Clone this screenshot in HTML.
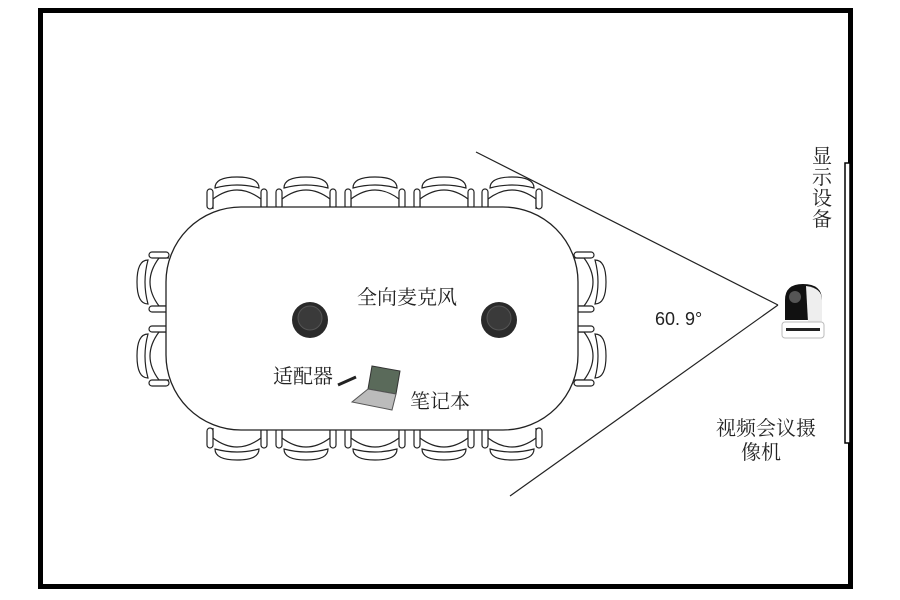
<!DOCTYPE html>
<html><head><meta charset="utf-8"><style>
html,body{margin:0;padding:0;background:#fff;}
svg{display:block}
text{font-family:"Liberation Sans","Noto Serif CJK SC",serif;fill:#222;}
</style></head><body>
<svg width="900" height="600" viewBox="0 0 900 600" xmlns="http://www.w3.org/2000/svg">
<defs>
<g id="chair" fill="#fff" stroke="#222" stroke-width="1.2">
  <path d="M-24,2 L-24,-8 Q0,-26 24,-8 L24,2"/>
  <path d="M-22,-19 Q-22,-30 0,-30 Q22,-30 22,-19 Q0,-25 -22,-19 Z"/>
  <rect x="-30" y="-18" width="6" height="20" rx="3"/>
  <rect x="24" y="-18" width="6" height="20" rx="3"/>
</g>
</defs>
<rect x="40.5" y="10.5" width="810" height="576" fill="#fff" stroke="#000" stroke-width="5"/>
<rect x="845" y="163" width="5" height="280" fill="#fff" stroke="#000" stroke-width="1.5"/>
<use href="#chair" transform="translate(237,207)"/>
<use href="#chair" transform="translate(306,207)"/>
<use href="#chair" transform="translate(375,207)"/>
<use href="#chair" transform="translate(444,207)"/>
<use href="#chair" transform="translate(512,207)"/>
<use href="#chair" transform="translate(237,430) rotate(180)"/>
<use href="#chair" transform="translate(306,430) rotate(180)"/>
<use href="#chair" transform="translate(375,430) rotate(180)"/>
<use href="#chair" transform="translate(444,430) rotate(180)"/>
<use href="#chair" transform="translate(512,430) rotate(180)"/>
<use href="#chair" transform="translate(167,282) rotate(-90)"/>
<use href="#chair" transform="translate(167,356) rotate(-90)"/>
<use href="#chair" transform="translate(576,282) rotate(90)"/>
<use href="#chair" transform="translate(576,356) rotate(90)"/>
<rect x="166" y="207" width="412" height="223" rx="75" fill="#fff" stroke="#222" stroke-width="1.3"/>
<line x1="476" y1="152" x2="778" y2="305" stroke="#222" stroke-width="1.2"/>
<line x1="510" y1="496" x2="778" y2="305" stroke="#222" stroke-width="1.2"/>
<circle cx="310" cy="320" r="18" fill="#2a2a2a"/><circle cx="310" cy="318" r="12" fill="#3a3a3a" stroke="#555"/>
<circle cx="499" cy="320" r="18" fill="#2a2a2a"/><circle cx="499" cy="318" r="12" fill="#3a3a3a" stroke="#555"/>
<line x1="338" y1="385" x2="356" y2="377" stroke="#222" stroke-width="3"/>
<polygon points="372,366 400,371 396,394 368,389" fill="#5a6a5a" stroke="#333"/>
<polygon points="368,389 396,394 392,410 352,402" fill="#bbb" stroke="#555"/>
<path d="M785,320 L785,300 Q785,284 803,284 Q822,284 822,300 L822,320 Z" fill="#111"/>
<path d="M806,286 Q822,288 822,300 L822,322 L808,322 Z" fill="#eee"/>
<circle cx="795" cy="297" r="6" fill="#555"/>
<rect x="782" y="322" width="42" height="16" rx="3" fill="#fff" stroke="#bbb"/>
<rect x="786" y="328" width="34" height="3" fill="#222"/>
<text x="357" y="304" font-size="20">全向麦克风</text>
<text x="273" y="383" font-size="20">适配器</text>
<text x="410" y="408" font-size="20">笔记本</text>
<text x="655" y="325" font-size="18">60. 9°</text>
<text x="716" y="435" font-size="20">视频会议摄</text>
<text x="741" y="459" font-size="20">像机</text>
<g font-size="20">
<text x="812" y="163">显</text><text x="812" y="184">示</text><text x="812" y="205">设</text><text x="812" y="226">备</text>
</g>
</svg>
</body></html>
